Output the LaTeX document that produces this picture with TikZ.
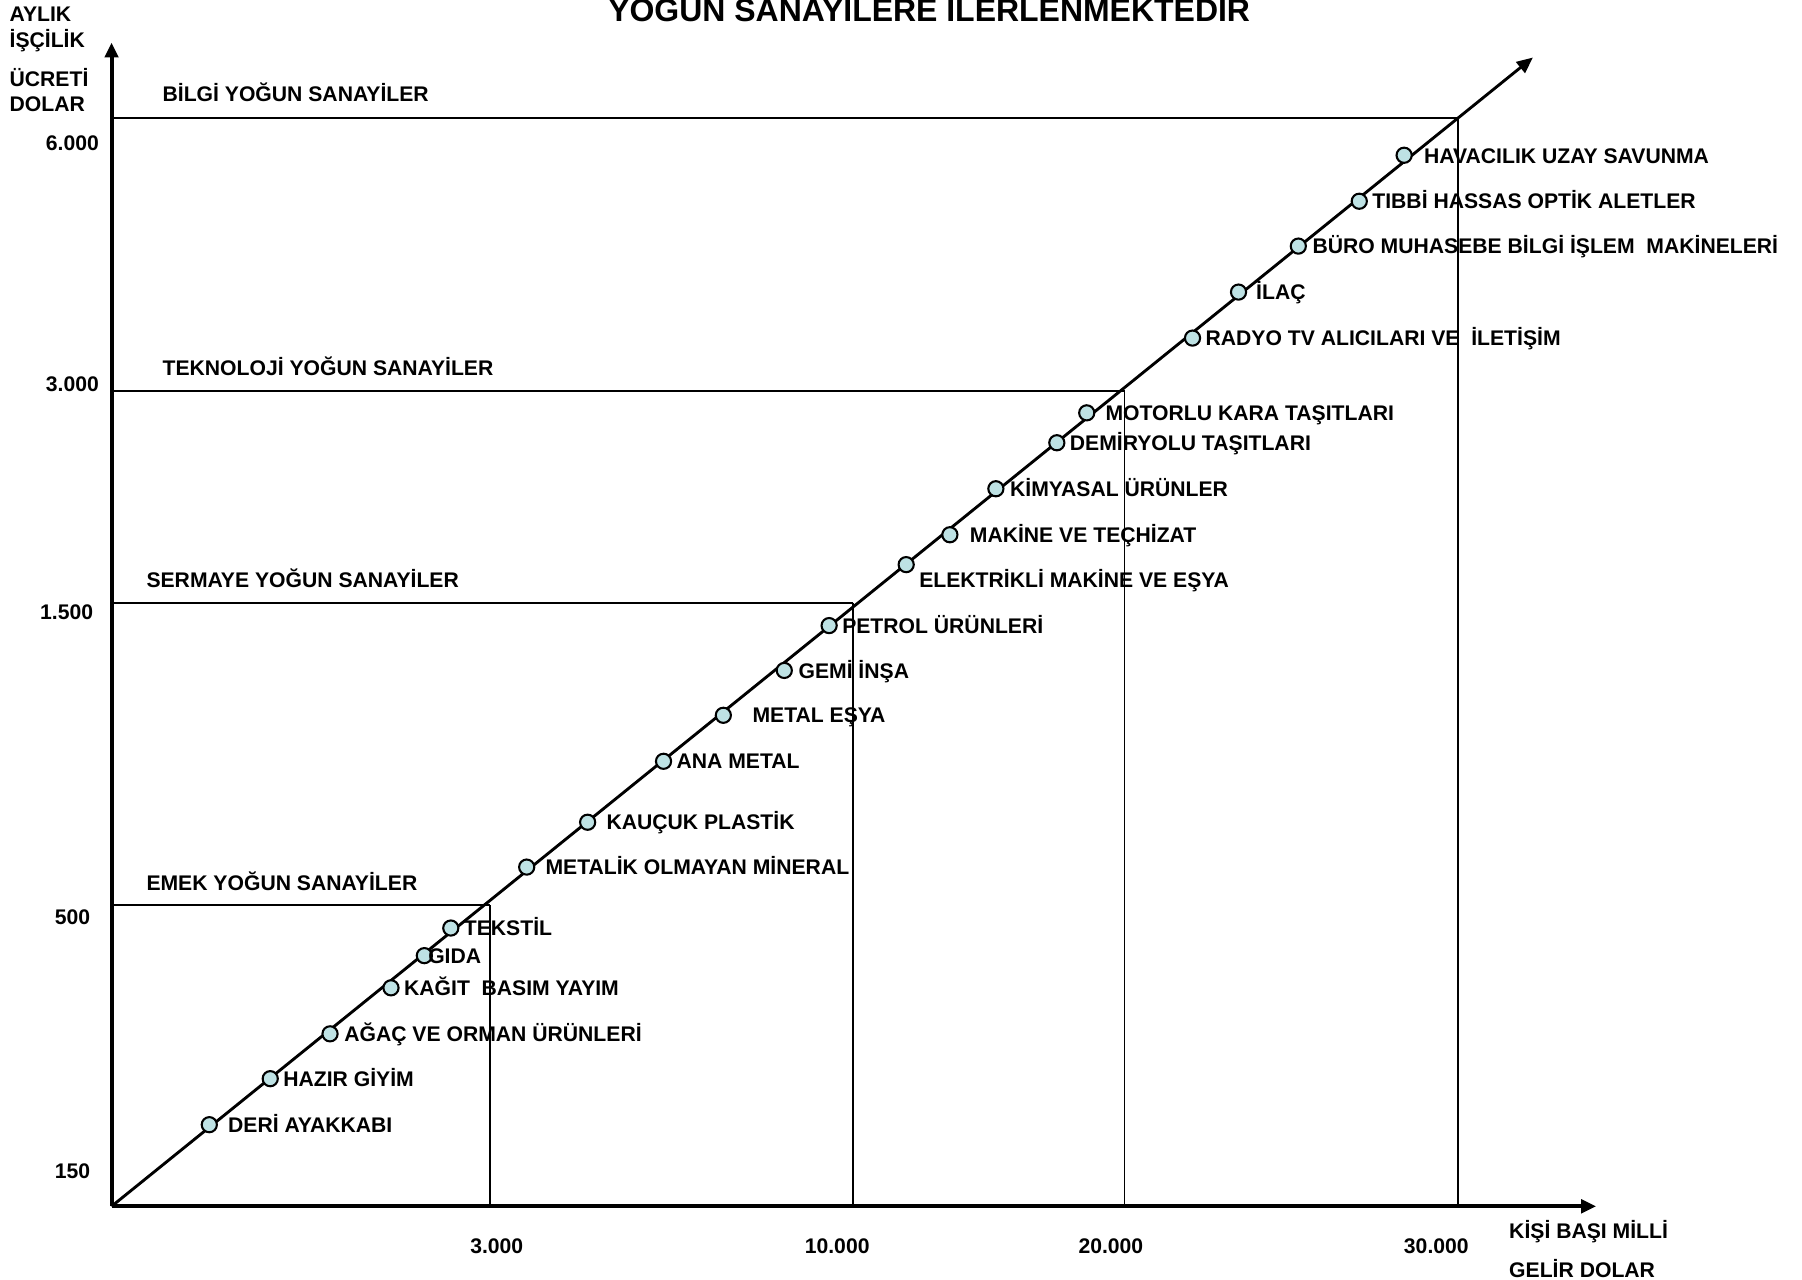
\documentclass[tikz,border=0pt]{standalone}
\usepackage{fontspec}
\setmainfont{Liberation Sans}
\usetikzlibrary{arrows.meta}
\definecolor{dotfill}{RGB}{190,226,228}
\begin{document}
\begin{tikzpicture}[x=0.5pt,y=-0.5pt,
  lab/.style={anchor=west,inner sep=0pt,text height=6.6pt,text depth=0pt,font=\bfseries\fontsize{9.2pt}{11pt}\selectfont},
  num/.style={anchor=center,inner sep=0pt,text height=6.6pt,text depth=0pt,font=\bfseries\fontsize{9.2pt}{11pt}\selectfont},
  ttl/.style={anchor=center,inner sep=0pt,text height=10pt,text depth=0pt,font=\bfseries\fontsize{13.9pt}{16pt}\selectfont},
  dot/.style={circle,draw=black,line width=0.9pt,fill=dotfill,minimum size=6.6pt,inner sep=0pt},
  axis/.style={line width=1.7pt,-{Triangle[length=6.5pt,width=5.8pt]}},
  diag/.style={line width=1.25pt,-{Triangle[length=7pt,width=6pt]}},
  hline/.style={line width=0.9pt},
  vline/.style={line width=0.7pt}
]
\useasboundingbox (0,0) rectangle (1567,1113);

% title
\node[ttl] (title) at (808,9) {YOĞUN SANAYİLERE İLERLENMEKTEDİR};

% axes
\coordinate (O) at (97,1049);
\coordinate (Ytip) at (97,37);
\coordinate (Xtip) at (1388,1049);
\coordinate (T) at (1333,50);

% section lines
\coordinate (b0) at (97,103);  \coordinate (b1) at (1268,103); \coordinate (b2) at (1268,1049);
\coordinate (t0) at (97,340);  \coordinate (t1) at (978,340);  \coordinate (t2) at (978,1049);
\coordinate (s0) at (97,524);  \coordinate (s1) at (742,524);  \coordinate (s2) at (742,1049);
\coordinate (e0) at (97,787);  \coordinate (e1) at (426,787);  \coordinate (e2) at (426,1049);
\draw[hline] (b0) -- (b1); \draw[vline] (b1) -- (b2);
\draw[hline] (t0) -- (t1); \draw[vline] (t1) -- (t2);
\draw[hline] (s0) -- (s1); \draw[vline] (s1) -- (s2);
\draw[hline] (e0) -- (e1); \draw[vline] (e1) -- (e2);

\draw[axis] (O) -- (Ytip);
\draw[axis] (O) -- (Xtip);
\draw[diag] (O) -- (T);

% axis titles
\node[lab] (ya1) at (8,12) {AYLIK};
\node[lab] (ya2) at (8,35) {İŞÇİLİK};
\node[lab] (ya3) at (8,69) {ÜCRETİ};
\node[lab] (ya4) at (8,90) {DOLAR};
\node[lab] (xa1) at (1312,1070) {KİŞİ BAŞI MİLLİ};
\node[lab] (xa2) at (1312,1104) {GELİR DOLAR};

% axis values
\node[num] (y1) at (63,124) {6.000};
\node[num] (y2) at (63,334) {3.000};
\node[num] (y3) at (58,532) {1.500};
\node[num] (y4) at (63,797) {500};
\node[num] (y5) at (63,1018) {150};
\node[num] (x1) at (432,1083) {3.000};
\node[num] (x2) at (728,1083) {10.000};
\node[num] (x3) at (966,1083) {20.000};
\node[num] (x4) at (1249,1083) {30.000};

% section titles
\node[lab] (sb) at (141,82) {BİLGİ YOĞUN SANAYİLER};
\node[lab] (st) at (141,320) {TEKNOLOJİ YOĞUN SANAYİLER};
\node[lab] (ss) at (127,504) {SERMAYE YOĞUN SANAYİLER};
\node[lab] (se) at (127,768) {EMEK YOĞUN SANAYİLER};

% industries
\node[dot] (c1) at (1221,135) {};
\node[lab] (l1) at (1238,136) {HAVACILIK UZAY SAVUNMA};
\node[dot] (c2) at (1182,175) {};
\node[lab] (l2) at (1193,175) {TIBBİ HASSAS OPTİK ALETLER};
\node[dot] (c3) at (1129,214) {};
\node[lab] (l3) at (1141,214) {BÜRO MUHASEBE BİLGİ İŞLEM\ \ MAKİNELERİ};
\node[dot] (c4) at (1077,254) {};
\node[lab] (l4) at (1092,254) {İLAÇ};
\node[dot] (c5) at (1037,294) {};
\node[lab] (l5) at (1048,294) {RADYO TV ALICILARI VE\ \ İLETİŞİM};
\node[dot] (c6) at (945,359) {};
\node[lab] (l6) at (961,359) {MOTORLU KARA TAŞITLARI};
\node[dot] (c7) at (919,385) {};
\node[lab] (l7) at (930,385) {DEMİRYOLU TAŞITLARI};
\node[dot] (c8) at (866,425) {};
\node[lab] (l8) at (878,425) {KİMYASAL ÜRÜNLER};
\node[dot] (c9) at (826,465) {};
\node[lab] (l9) at (843,465) {MAKİNE VE TEÇHİZAT};
\node[dot] (c10) at (788,491) {};
\node[lab] (l10) at (799,504) {ELEKTRİKLİ MAKİNE VE EŞYA};
\node[dot] (c11) at (721,544) {};
\node[lab] (l11) at (732,544) {PETROL ÜRÜNLERİ};
\node[dot] (c12) at (682,583) {};
\node[lab] (l12) at (694,583) {GEMİ İNŞA};
\node[dot] (c13) at (629,622) {};
\node[lab] (l13) at (654,622) {METAL EŞYA};
\node[dot] (c14) at (577,662) {};
\node[lab] (l14) at (588,662) {ANA METAL};
\node[dot] (c15) at (511,715) {};
\node[lab] (l15) at (527,715) {KAUÇUK PLASTİK};
\node[dot] (c16) at (458,754) {};
\node[lab] (l16) at (474,754) {METALİK OLMAYAN MİNERAL};
\node[dot] (c17) at (392,807) {};
\node[lab] (l17) at (403,807) {TEKSTİL};
\node[dot] (c18) at (369,831) {};
\node[lab] (l18) at (372,831) {GIDA};
\node[dot] (c19) at (340,859) {};
\node[lab] (l19) at (351,859) {KAĞIT\ \ BASIM YAYIM};
\node[dot] (c20) at (287,899) {};
\node[lab] (l20) at (299,899) {AĞAÇ VE ORMAN ÜRÜNLERİ};
\node[dot] (c21) at (235,938) {};
\node[lab] (l21) at (246,938) {HAZIR GİYİM};
\node[dot] (c22) at (182,978) {};
\node[lab] (l22) at (198,978) {DERİ AYAKKABI};
\end{tikzpicture}
\end{document}
